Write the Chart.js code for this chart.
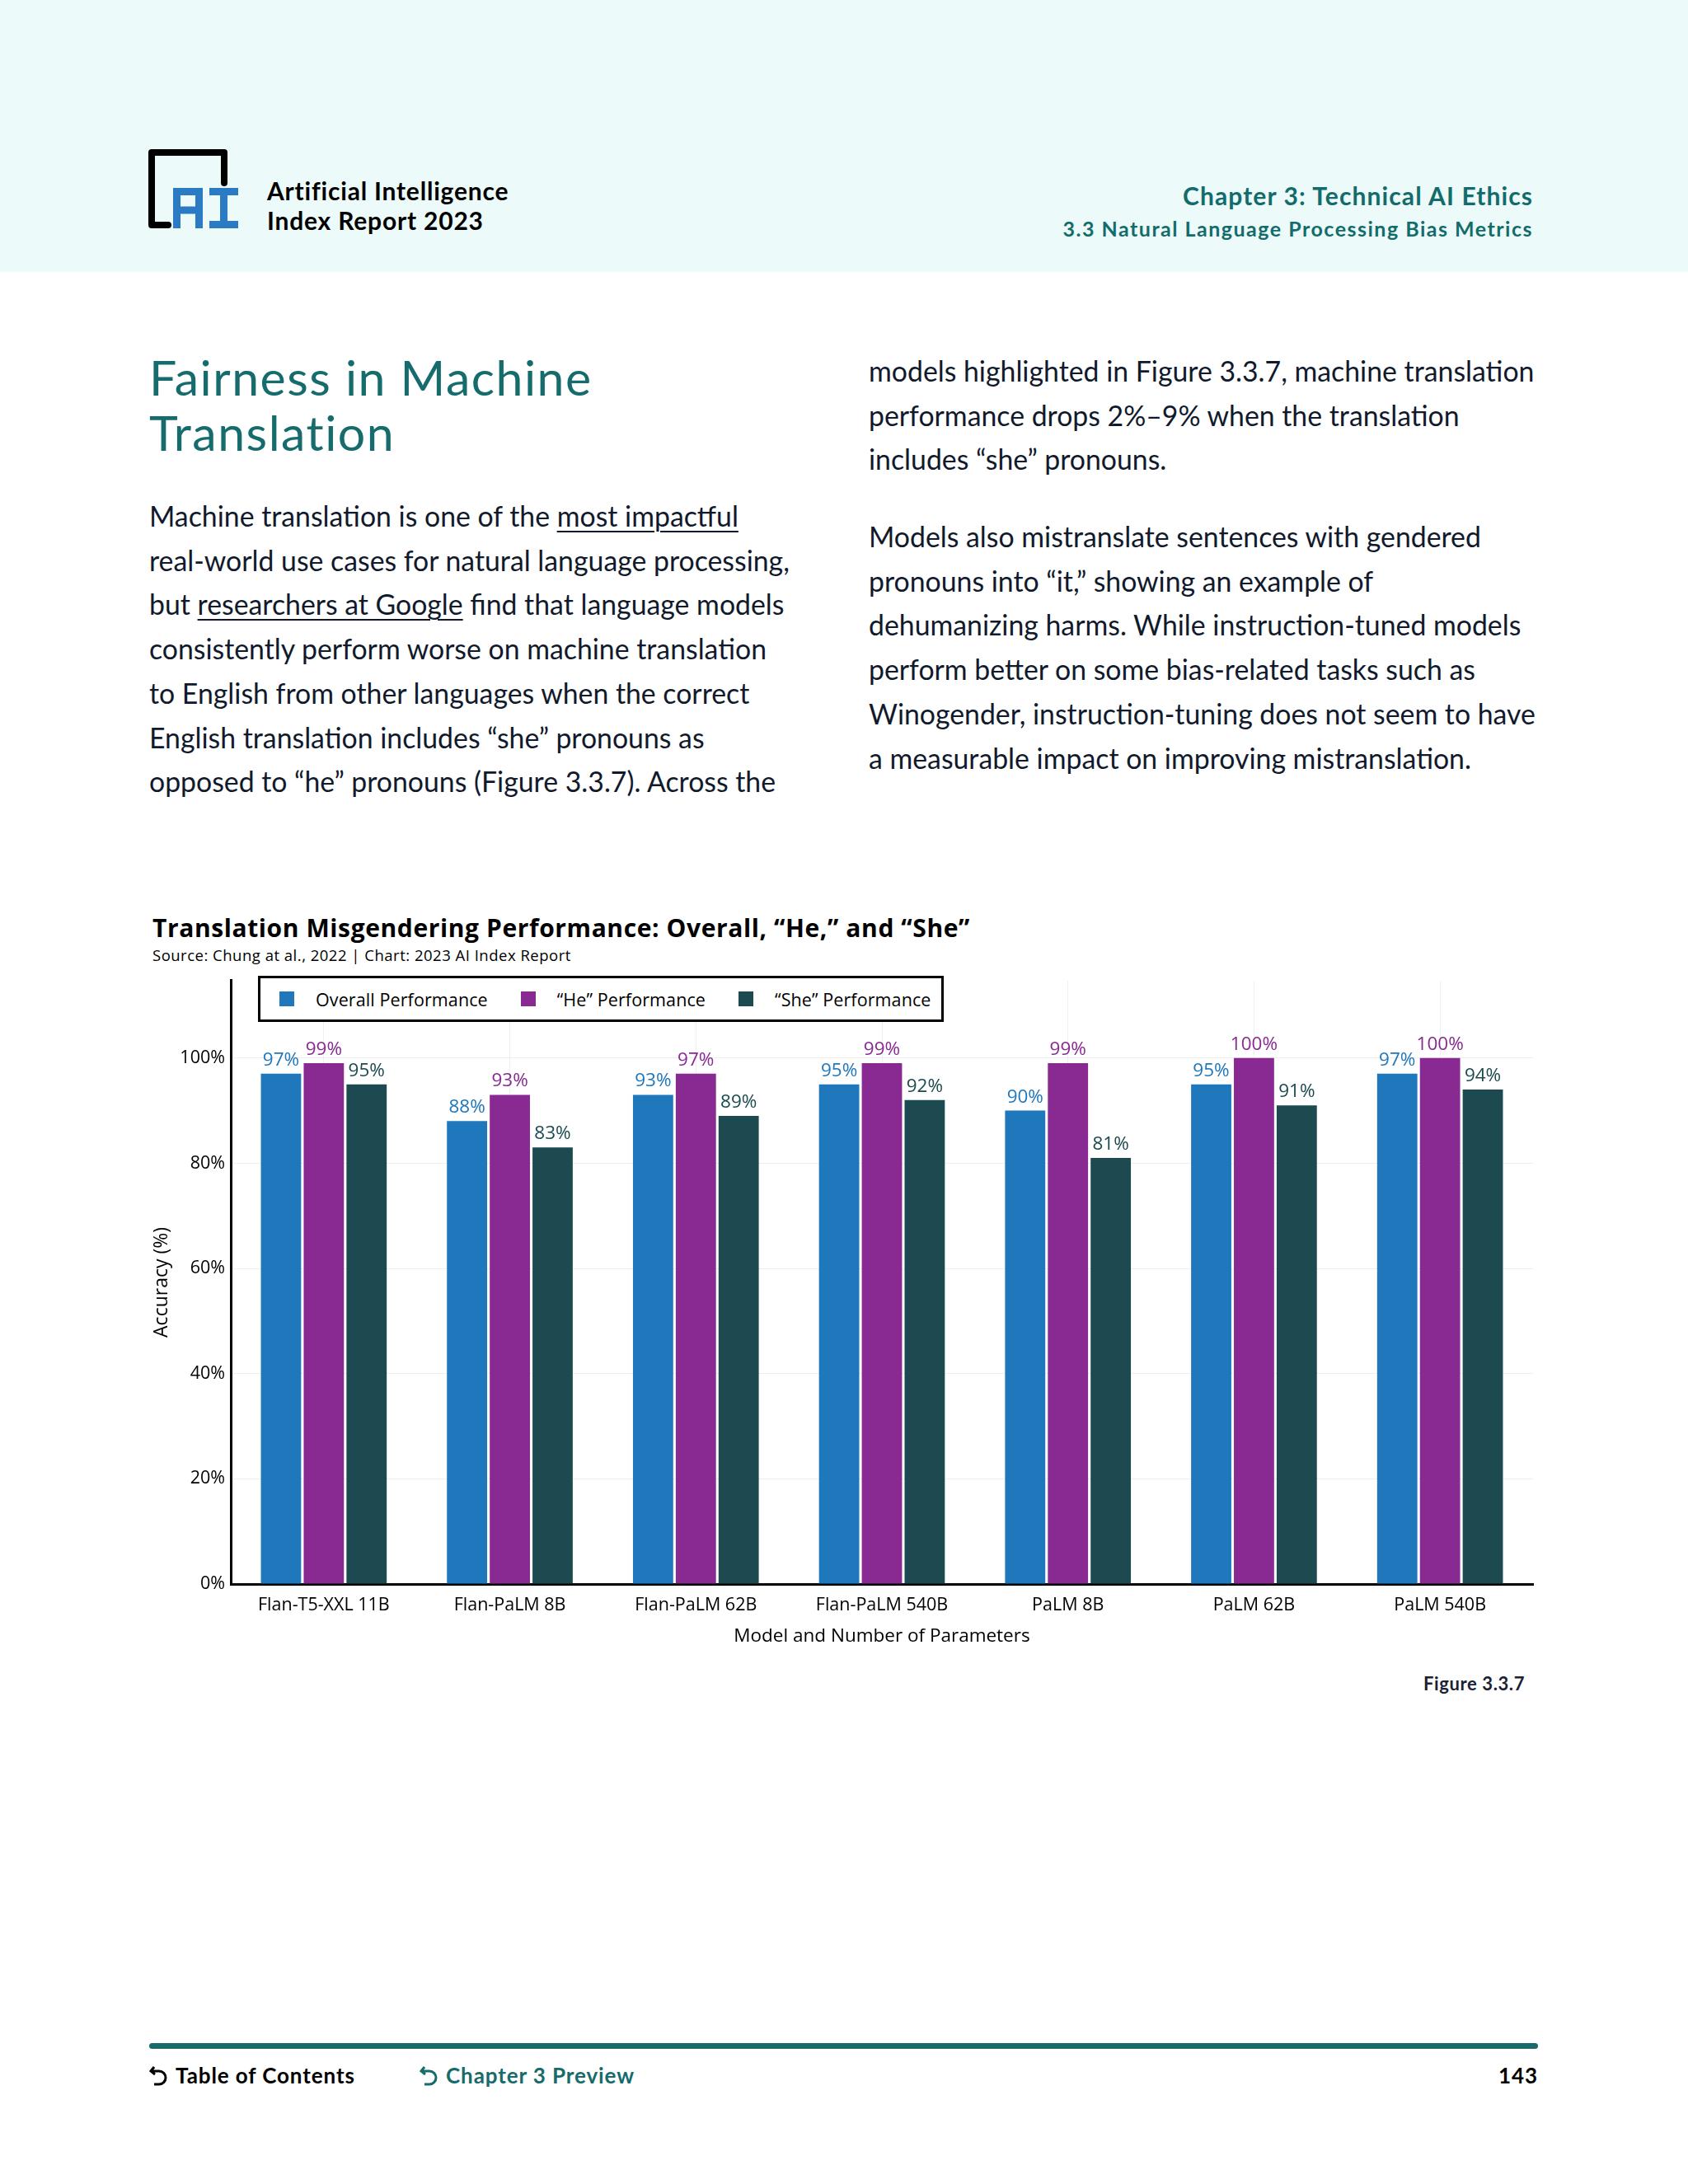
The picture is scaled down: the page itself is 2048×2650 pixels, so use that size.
<!DOCTYPE html>
<html>
<head>
<meta charset="utf-8">
<script src="https://cdn.jsdelivr.net/npm/chart.js@4.4.0/dist/chart.umd.min.js"></script>
<style>
  body { margin: 0; width: 2048px; height: 2650px; background: #fff; position: relative; font-family: 'Lato', 'Liberation Sans', sans-serif; color: #111a2c; overflow: hidden; }
  .abs { position: absolute; white-space: nowrap; }
  .band { left: 0; top: 0; width: 2048px; height: 330px; background: #edfafa; }
  .brand { left: 324px; top: 213px; font-size: 30px; letter-spacing: 0.8px; line-height: 36px; font-weight: 700; color: #000; }
  .chap { right: 188px; top: 217px; text-align: right; color: #136c6c; }
  .chap .c1 { font-size: 30px; letter-spacing: 1.1px; font-weight: 700; line-height: 40px; }
  .chap .c2 { font-size: 25px; letter-spacing: 1.5px; font-weight: 700; line-height: 40px; }
  h1 { position: absolute; left: 181px; top: 424px; margin: 0; font-size: 59px; letter-spacing: 1.5px; line-height: 67px; font-weight: 400; color: #166c6c; }
  .body { font-size: 33.8px; line-height: 53.7px; color: #111a2c; }
  .body u { text-decoration-thickness: 2px; text-underline-offset: 5px; }
  .ctitle { left: 185px; top: 1105px; font-family: 'Open Sans', sans-serif; font-size: 30px; letter-spacing: 0.6px; font-weight: 700; color: #000; }
  .csrc { left: 185px; top: 1146px; font-family: 'Open Sans', sans-serif; font-size: 18.5px; letter-spacing: 0.5px; color: #000; }
  #legend { position: absolute; left: 313px; top: 1184px; width: 803px; height: 50px; border: 3px solid #000; background: #fff; display: flex; align-items: center; padding-left: 23px; box-sizing: content-box; z-index: 2; font-family: 'Open Sans', sans-serif; white-space: nowrap; }
  #legend .item { display: flex; align-items: center; flex-shrink: 0; margin-right: 40px; font-size: 21.5px; letter-spacing: 0.1px; color: #000; }
  #legend .item:last-child { margin-right: 0; }
  #legend .sw { width: 18px; height: 18px; margin-right: 26px; flex-shrink: 0; }
  #wrap { position: absolute; left: 170px; top: 1170px; width: 1700px; height: 850px; }
  .fig { right: 198px; top: 2029px; font-size: 22px; letter-spacing: 0.6px; font-weight: 700; color: #1a2233; }
  .rule { left: 181px; top: 2479px; width: 1685px; height: 7px; background: #176b6b; border-radius: 4px; }
  .foot { top: 2502px; font-size: 26px; letter-spacing: 0.9px; font-weight: 700; line-height: 32px; display: flex; align-items: center; }
  .foot svg { margin-right: 8px; }
</style>
</head>
<body>

<div class="abs band"></div>
<svg class="abs" style="left:0;top:0" width="400" height="330">
  <path d="M204 273 H184 V185 H272 V222" fill="none" stroke="#000" stroke-width="8" stroke-linecap="round" stroke-linejoin="round"/>
  <path d="M214.5 277 V232.5 H241.5 V277 M214.5 255 H241.5" fill="none" stroke="#2a7bc4" stroke-width="9"/>
  <path d="M254 232.5 H289 M271.5 232.5 V272.5 M254 272.5 H289" fill="none" stroke="#2a7bc4" stroke-width="9"/>
</svg>
<div class="abs brand">Artificial Intelligence<br>Index Report 2023</div>
<div class="abs chap"><div class="c1">Chapter 3: Technical AI Ethics</div><div class="c2">3.3 Natural Language Processing Bias Metrics</div></div>

<h1>Fairness in Machine<br>Translation</h1>

<div class="abs body" style="left:181px;top:600px">
Machine translation is one of the <u>most impactful</u><br>
real-world use cases for natural language processing,<br>
but <u>researchers at Google</u> find that language models<br>
consistently perform worse on machine translation<br>
to English from other languages when the correct<br>
English translation includes “she” pronouns as<br>
opposed to “he” pronouns (Figure 3.3.7). Across the
</div>
<div class="abs body" style="left:1054px;top:424px">
models highlighted in Figure 3.3.7, machine translation<br>
performance drops 2%–9% when the translation<br>
includes “she” pronouns.
</div>
<div class="abs body" style="left:1054px;top:625px">
Models also mistranslate sentences with gendered<br>
pronouns into “it,” showing an example of<br>
dehumanizing harms. While instruction-tuned models<br>
perform better on some bias-related tasks such as<br>
Winogender, instruction-tuning does not seem to have<br>
a measurable impact on improving mistranslation.
</div>

<div class="abs ctitle">Translation Misgendering Performance: Overall, “He,” and “She”</div>
<div class="abs csrc">Source: Chung at al., 2022 | Chart: 2023 AI Index Report</div>

<div id="legend"></div>
<div id="wrap"><canvas id="myChart" width="1700" height="850"></canvas></div>

<div class="abs fig">Figure 3.3.7</div>

<div class="abs rule"></div>
<div class="abs foot" style="left:181px;color:#000">
  <svg width="24" height="28" viewBox="0 0 24 28"><path d="M6 4 L2 9 L7 13 M2 9 H12 A8 8 0 0 1 12 25 H6" fill="none" stroke="#000" stroke-width="3"/></svg>Table of Contents
</div>
<div class="abs foot" style="left:509px;color:#176b6b">
  <svg width="24" height="28" viewBox="0 0 24 28"><path d="M6 4 L2 9 L7 13 M2 9 H12 A8 8 0 0 1 12 25 H6" fill="none" stroke="#176b6b" stroke-width="3"/></svg>Chapter 3 Preview
</div>
<div class="abs foot" style="right:182px;color:#000">143</div>

<script>
const models = ['Flan-T5-XXL 11B', 'Flan-PaLM 8B', 'Flan-PaLM 62B', 'Flan-PaLM 540B', 'PaLM 8B', 'PaLM 62B', 'PaLM 540B'];
const overall = [97, 88, 93, 95, 90, 95, 97];
const hePerf = [99, 93, 97, 99, 99, 100, 100];
const shePerf = [95, 83, 89, 92, 81, 91, 94];
const seriesNames = ['Overall Performance', '“He” Performance', '“She” Performance'];
const seriesColors = ['#1f77bc', '#882a92', '#1c4a50'];
const yTicks = [0, 20, 40, 60, 80, 100];

const chartFont = "'Open Sans', sans-serif";

// legend box drawn as html on top of the plot
const legend = document.getElementById('legend');
seriesNames.forEach((name, i) => {
    const item = document.createElement('div');
    item.className = 'item';
    const sw = document.createElement('div');
    sw.className = 'sw';
    sw.style.background = seriesColors[i];
    item.appendChild(sw);
    item.appendChild(document.createTextNode(name));
    legend.appendChild(item);
});

// value labels above each bar
const barLabels = {
    id: 'barLabels',
    afterDatasetsDraw(chart) {
        const ctx = chart.ctx;
        ctx.save();
        ctx.font = '22.5px ' + chartFont;
        ctx.textAlign = 'center';
        ctx.textBaseline = 'alphabetic';
        chart.data.datasets.forEach((ds, i) => {
            ctx.fillStyle = seriesColors[i];
            chart.getDatasetMeta(i).data.forEach((bar, j) => {
                ctx.fillText(ds.data[j] + '%', bar.x, bar.y - 10);
            });
        });
        ctx.restore();
    }
};

const ctx = document.getElementById('myChart').getContext('2d');
const myChart = new Chart(ctx, {
    type: 'bar',
    data: {
        labels: models,
        datasets: [overall, hePerf, shePerf].map((values, i) => ({
            label: seriesNames[i],
            data: values,
            backgroundColor: seriesColors[i],
            borderWidth: 0,
            categoryPercentage: 0.69,
            barPercentage: 0.94
        }))
    },
    options: {
        responsive: false,
        animation: false,
        devicePixelRatio: 1,
        layout: { padding: { left: 0, right: 10, top: 15, bottom: 0 } },
        plugins: {
            legend: { display: false },
            tooltip: { enabled: false }
        },
        scales: {
            x: {
                grid: { color: '#f0f0f0', offset: false, drawTicks: false },
                border: { color: '#000', width: 3 },
                ticks: { color: '#000', padding: 13, font: { family: chartFont, size: 21.5 } },
                title: { display: true, text: 'Model and Number of Parameters', color: '#000', font: { family: chartFont, size: 22.5 }, padding: { top: 0, bottom: 21 } },
                afterFit(scale) { scale.height = 98 }
            },
            y: {
                min: 0,
                max: 114.7,
                grid: { color: '#eeeeee', drawTicks: false },
                border: { color: '#000', width: 3 },
                afterBuildTicks(scale) { scale.ticks = yTicks.map(v => ({ value: v })) },
                ticks: { color: '#000', padding: 7, font: { family: chartFont, size: 21.5 }, callback: v => v + '%' },
                title: { display: true, text: 'Accuracy (%)', color: '#000', font: { family: chartFont, size: 23 }, padding: { top: 13, bottom: 0 } },
                afterFit(scale) { scale.width = 110 }
            }
        }
    },
    plugins: [barLabels]
});
</script>
</body>
</html>
